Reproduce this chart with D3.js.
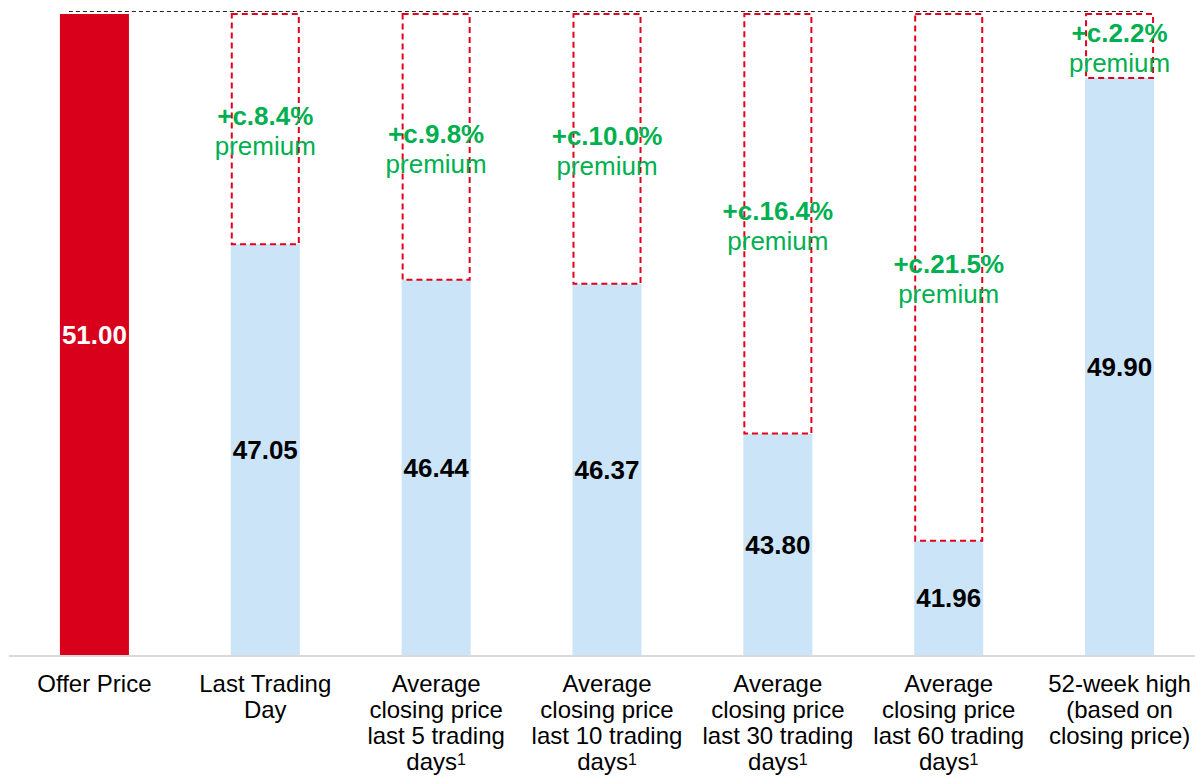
<!DOCTYPE html>
<html>
<head>
<meta charset="utf-8">
<script src="https://cdn.jsdelivr.net/npm/d3@7"></script>
<style>
  body { margin: 0; background: #fff; }
  svg { display: block; font-family: Arial, "Liberation Sans", sans-serif; }
</style>
</head>
<body>
<div id="chart"></div>
<script>
// closing price comparison vs offer price
var categories = ["Offer Price", "Last Trading Day", "Average 5", "Average 10", "Average 30", "Average 60", "52-week high"];
var categoryLines = [
  ["Offer Price"],
  ["Last Trading", "Day"],
  ["Average", "closing price", "last 5 trading", "days"],
  ["Average", "closing price", "last 10 trading", "days"],
  ["Average", "closing price", "last 30 trading", "days"],
  ["Average", "closing price", "last 60 trading", "days"],
  ["52-week high", "(based on", "closing price)"]
];
var footnote = [false, false, true, true, true, true, false];
var prices = [51.00, 47.05, 46.44, 46.37, 43.80, 41.96, 49.90];
var priceLabels = ["51.00", "47.05", "46.44", "46.37", "43.80", "41.96", "49.90"];
var premiums = [null, "+c.8.4%", "+c.9.8%", "+c.10.0%", "+c.16.4%", "+c.21.5%", "+c.2.2%"];

var width = 1195, height = 779;
var offerPrice = prices[0];

var red = "#d9001b", blue = "#cce4f8", green = "#00b050";

var svg = d3.select("#chart").append("svg")
    .attr("width", width)
    .attr("height", height);

var x = d3.scaleBand()
    .domain(categories)
    .range([9, 1205])
    .paddingInner(0.596)
    .paddingOuter(0.298);

var y = d3.scaleLinear()
    .domain([40, 51])
    .range([655, 14]);

var bw = x.bandwidth();

// dashed reference line at offer price
svg.append("line")
    .attr("x1", x(categories[0]) + bw * 0.13)
    .attr("x2", x(categories[6]) + bw * 0.84)
    .attr("y1", y(offerPrice) - 2.5)
    .attr("y2", y(offerPrice) - 2.5)
    .attr("stroke", "#222")
    .attr("stroke-width", 1.2)
    .attr("stroke-dasharray", "4,3");

// bars
svg.append("g").selectAll("rect")
    .data(prices)
    .join("rect")
    .attr("x", (d, i) => x(categories[i]))
    .attr("y", d => y(d))
    .attr("width", bw)
    .attr("height", d => y.range()[0] - y(d))
    .attr("fill", (d, i) => i == 0 ? red : blue);

// premium gap boxes
svg.append("g").selectAll("rect")
    .data(prices.slice(1))
    .join("rect")
    .attr("x", (d, i) => x(categories[i + 1]) + 1)
    .attr("y", y(offerPrice))
    .attr("width", bw - 2)
    .attr("height", d => y(d) - y(offerPrice))
    .attr("fill", "none")
    .attr("stroke", "#e2001a")
    .attr("stroke-width", 2)
    .attr("stroke-dasharray", "6,4");

// axis baseline
svg.append("line")
    .attr("x1", 9).attr("x2", width)
    .attr("y1", 656).attr("y2", 656)
    .attr("stroke", "#d9d9d9")
    .attr("stroke-width", 2);

// value labels
svg.append("g").selectAll("text")
    .data(prices)
    .join("text")
    .attr("x", (d, i) => x(categories[i]) + bw / 2)
    .attr("y", d => (y(d) + y.range()[0]) / 2)
    .attr("dy", "0.36em")
    .attr("text-anchor", "middle")
    .attr("font-size", 26)
    .attr("font-weight", "bold")
    .attr("fill", (d, i) => i == 0 ? "#fff" : "#000")
    .text((d, i) => priceLabels[i]);

// premium labels
var prem = svg.append("g").selectAll("g")
    .data(prices.map((d, i) => ({ v: d, i: i })).filter(d => premiums[d.i]))
    .join("g")
    .attr("transform", d => "translate(" + (x(categories[d.i]) + bw / 2) + "," + ((y(d.v) + y(offerPrice)) / 2) + ")");

prem.append("text")
    .attr("y", -4)
    .attr("text-anchor", "middle")
    .attr("font-size", 26)
    .attr("font-weight", "bold")
    .attr("fill", green)
    .text(d => premiums[d.i]);

prem.append("text")
    .attr("y", 26)
    .attr("text-anchor", "middle")
    .attr("font-size", 26)
    .attr("fill", green)
    .text("premium");

// category labels
var cat = svg.append("g").selectAll("text")
    .data(categories)
    .join("text")
    .attr("x", d => x(d) + bw / 2)
    .attr("y", 692)
    .attr("text-anchor", "middle")
    .attr("font-size", 24)
    .attr("fill", "#000");

cat.each(function(d, i) {
    var t = d3.select(this);
    categoryLines[i].forEach(function(line, j) {
        t.append("tspan")
            .attr("x", x(d) + bw / 2)
            .attr("y", 692 + j * 26)
            .text(line);
        if (footnote[i] && j == categoryLines[i].length - 1) {
            t.append("tspan")
                .attr("font-size", 16)
                .attr("dy", -5)
                .text("1");
        }
    });
});
</script>
</body>
</html>
